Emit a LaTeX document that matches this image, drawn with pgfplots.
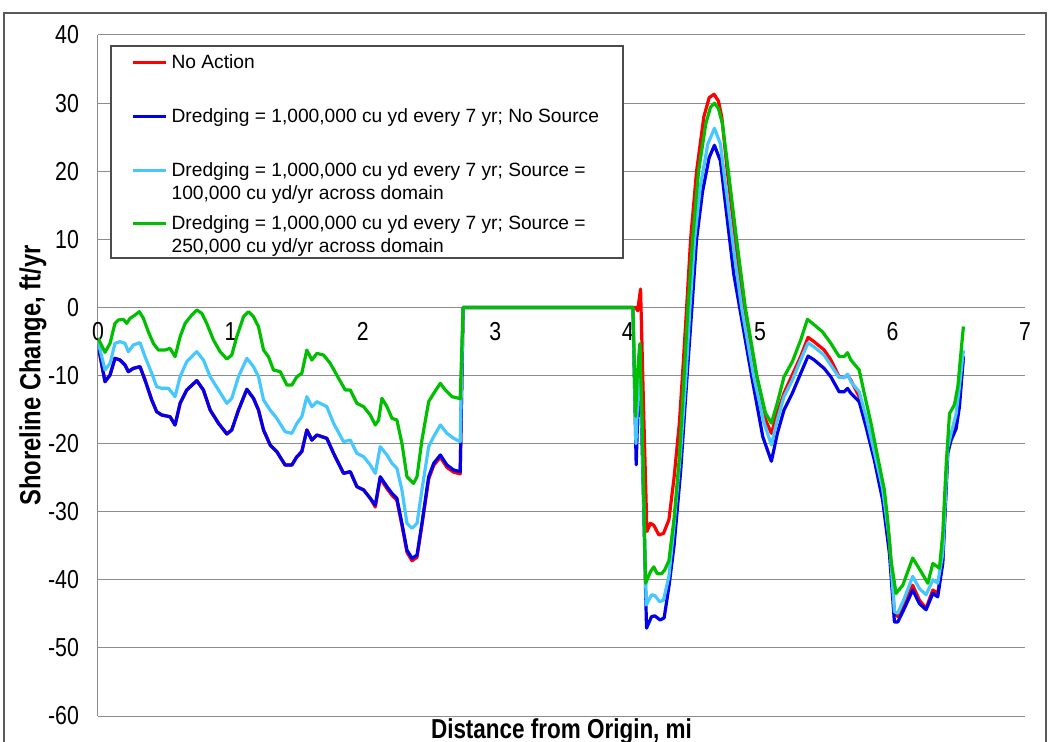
\documentclass[border=0pt]{standalone}
\usepackage{fontspec}
\setmainfont{Liberation Sans}
\newfontfamily\narrowfont{Liberation Sans}[FakeStretch=0.82]
\usepackage{pgfplots}
\pgfplotsset{compat=1.18}
\definecolor{cRed}{RGB}{255,0,0}
\definecolor{cBlue}{RGB}{0,0,235}
\definecolor{cCyan}{RGB}{70,200,255}
\definecolor{cGreen}{RGB}{0,190,0}
\definecolor{gridgray}{RGB}{140,140,140}
\newcommand\legtext[1]{\raisebox{0pt}[7.5pt][2pt]{#1}}
\newcommand\legtwo[2]{\raisebox{0pt}[7.5pt][2pt]{\begin{tabular}[t]{@{}l@{}}#1\\#2\end{tabular}}}
\begin{document}
\begin{tikzpicture}
\path[use as bounding box] (0,0) rectangle (525pt,370.5pt);
\draw[line width=0.7pt, black!65] (2pt,-2pt) -- (2pt,364pt) -- (523pt,364pt) -- (523pt,-2pt);
\begin{axis}[
  at={(49pt,12.5pt)}, anchor=south west,
  width=463.5pt, height=340.5pt, scale only axis,
  xmin=0, xmax=7, ymin=-60, ymax=40,
  axis x line=middle, axis y line=left,
  hide obscured x ticks=false,
  axis line style={-, draw=gridgray, line width=0.5pt},
  xtick={0,...,7}, ytick={-60,-50,...,40},
  major tick length=0pt,
  ymajorgrids, major grid style={draw=gridgray, line width=0.5pt},
  ticklabel style={font=\narrowfont\fontsize{13}{15}\selectfont},
  /pgf/number format/assume math mode=true,
  yticklabel style={anchor=east, xshift=-6pt},
  xticklabel style={anchor=north, yshift=-4pt},
  xlabel={Distance from Origin, mi},
  ylabel={Shoreline Change, ft/yr},
  xlabel style={at={(axis description cs:0.5,0)}, anchor=center, yshift=-7.5pt, font=\narrowfont\bfseries\fontsize{13.7}{16}\selectfont},
  ylabel style={at={(axis description cs:0,0.5)}, anchor=center, yshift=32.5pt, font=\narrowfont\bfseries\fontsize{14.5}{16}\selectfont},
  legend style={at={(axis description cs:0.014,0.984)}, anchor=north west, draw=none, fill=none,
    font=\fontsize{9.6}{11.5}\selectfont, inner xsep=10pt, inner ysep=1.75pt, row sep=13.85pt},
  legend cell align=left,
  legend image code/.code={\draw[#1] (0pt,0pt) -- (16.5pt,0pt);},
  every axis plot/.append style={line width=1.6pt, line join=round},
]
% No Action
\addplot[cRed] coordinates {
(0,-5.5)(0.053,-10.91)(0.091,-9.93)(0.128,-7.48)(0.166,-7.72)(0.204,-8.46)(0.229,-9.44)(0.267,-8.95)(0.317,-8.70)(0.355,-10.66)
(0.406,-13.60)(0.443,-15.31)(0.481,-15.80)(0.544,-16.05)(0.582,-17.27)(0.620,-14.09)(0.670,-12.13)(0.746,-10.76)(0.796,-12.13)
(0.847,-15.07)(0.910,-17.02)(0.973,-18.59)(1.010,-18.00)(1.061,-15.07)(1.124,-12.03)(1.174,-13.35)(1.212,-15.07)(1.250,-18.00)
(1.300,-20.20)(1.350,-21.18)(1.413,-23.14)(1.464,-23.14)(1.502,-21.92)(1.539,-21.18)(1.577,-18.00)(1.615,-19.48)(1.653,-18.74)
(1.728,-19.23)(1.779,-21.43)(1.854,-24.37)(1.905,-24.12)(1.955,-26.32)(2.006,-26.81)(2.056,-28.04)(2.094,-29.32)(2.131,-25.10)
(2.182,-26.60)(2.220,-27.60)(2.257,-28.34)(2.295,-32.00)(2.333,-35.95)(2.371,-37.20)(2.409,-36.70)(2.446,-32.00)(2.497,-25.20)
(2.535,-23.20)(2.585,-22.00)(2.635,-23.50)(2.686,-24.20)(2.735,-24.45)(2.757,0)
(4.06,0)(4.075,-0.5)(4.097,2.7)(4.12,-15)(4.145,-32.9)(4.172,-31.7)(4.197,-32.0)(4.235,-33.4)(4.27,-33.2)(4.311,-31.2)
(4.35,-25)(4.39,-17)(4.42,-8)(4.445,0)(4.475,10)(4.52,20)(4.575,28)(4.615,30.8)(4.652,31.3)(4.685,30.3)(4.71,28)(4.752,20)(4.812,10)
(4.878,0)(4.962,-10)(5.03,-16)(5.085,-18.5)(5.13,-15.5)(5.18,-12.6)(5.243,-9.9)(5.306,-7.2)(5.362,-4.4)(5.407,-5.03)
(5.483,-6.25)(5.534,-7.7)(5.597,-10.2)(5.634,-10.3)(5.660,-9.9)(5.685,-10.7)(5.748,-13.1)(5.799,-16.5)(5.862,-21.4)(5.925,-26.8)
(5.976,-34.2)(6.014,-44.9)(6.039,-45.4)(6.089,-43.7)(6.152,-40.8)(6.203,-43.0)(6.253,-44.2)(6.304,-41.5)(6.341,-42.0)(6.379,-37.1)
(6.417,-20.9)(6.442,-19.0)(6.480,-17.0)(6.505,-13.6)(6.535,-7.2)
};
\addlegendentry{\legtext{No Action}}
% Dredging, no source
\addplot[cBlue] coordinates {
(0,-5.5)(0.053,-10.91)(0.091,-9.93)(0.128,-7.48)(0.166,-7.72)(0.204,-8.46)(0.229,-9.44)(0.267,-8.95)(0.317,-8.70)(0.355,-10.66)
(0.406,-13.60)(0.443,-15.31)(0.481,-15.80)(0.544,-16.05)(0.582,-17.27)(0.620,-14.09)(0.670,-12.13)(0.746,-10.76)(0.796,-12.13)
(0.847,-15.07)(0.910,-17.02)(0.973,-18.59)(1.010,-18.00)(1.061,-15.07)(1.124,-12.03)(1.174,-13.35)(1.212,-15.07)(1.250,-18.00)
(1.300,-20.20)(1.350,-21.18)(1.413,-23.14)(1.464,-23.14)(1.502,-21.92)(1.539,-21.18)(1.577,-18.00)(1.615,-19.48)(1.653,-18.74)
(1.728,-19.23)(1.779,-21.43)(1.854,-24.37)(1.905,-24.12)(1.955,-26.32)(2.006,-26.81)(2.056,-28.04)(2.094,-29.02)(2.131,-24.86)
(2.182,-26.32)(2.220,-27.30)(2.257,-28.04)(2.295,-31.71)(2.333,-35.63)(2.371,-36.85)(2.409,-36.36)(2.446,-31.71)(2.497,-24.86)
(2.535,-22.90)(2.585,-21.67)(2.635,-23.14)(2.686,-23.88)(2.735,-24.12)(2.757,0)
(4.039,0)(4.064,-23.1)(4.09,-6.5)(4.115,-25)(4.142,-47.1)(4.18,-45.4)(4.205,-45.3)(4.245,-45.9)(4.275,-45.6)(4.311,-41)
(4.35,-35)(4.40,-24)(4.445,-11)(4.485,0)(4.52,10)(4.565,17)(4.615,22)(4.655,23.8)(4.70,21.5)(4.745,14)(4.80,5)
(4.845,0)(4.935,-10)(5.02,-19)(5.085,-22.6)(5.13,-18.5)(5.18,-15.07)(5.243,-12.6)(5.306,-9.7)(5.362,-7.14)(5.407,-7.7)
(5.483,-8.95)(5.534,-10.2)(5.597,-12.4)(5.634,-12.4)(5.660,-11.9)(5.685,-12.6)(5.748,-13.85)(5.799,-17.5)(5.862,-22.4)(5.925,-28.3)
(5.976,-36.1)(6.014,-46.2)(6.039,-46.2)(6.089,-44.2)(6.152,-41.5)(6.203,-43.5)(6.253,-44.4)(6.304,-42.0)(6.341,-42.5)(6.379,-37.6)
(6.417,-21.4)(6.442,-19.5)(6.480,-17.8)(6.505,-14.6)(6.535,-7.2)
};
\addlegendentry{\legtext{Dredging = 1,000,000 cu yd every 7 yr; No Source}}
% Source 100,000
\addplot[cCyan] coordinates {
(0,-5.0)(0.053,-9.19)(0.091,-8.21)(0.128,-5.28)(0.166,-5.03)(0.204,-5.28)(0.229,-6.50)(0.267,-5.52)(0.317,-5.18)(0.355,-7.23)
(0.406,-9.68)(0.443,-11.64)(0.481,-11.88)(0.532,-11.88)(0.582,-13.11)(0.620,-10.17)(0.670,-7.97)(0.746,-6.50)(0.796,-7.72)
(0.847,-10.17)(0.910,-12.13)(0.973,-14.09)(1.010,-13.35)(1.061,-10.17)(1.124,-7.48)(1.174,-8.70)(1.212,-10.17)(1.250,-13.60)
(1.300,-15.07)(1.350,-16.29)(1.413,-18.25)(1.464,-18.49)(1.502,-17.02)(1.539,-16.05)(1.577,-13.11)(1.615,-14.58)(1.653,-13.84)
(1.728,-14.58)(1.779,-17.02)(1.854,-19.72)(1.905,-19.48)(1.955,-21.43)(2.006,-21.92)(2.056,-23.14)(2.094,-24.37)(2.131,-20.45)
(2.182,-21.67)(2.220,-22.90)(2.257,-23.63)(2.295,-26.81)(2.333,-31.71)(2.371,-32.44)(2.409,-31.71)(2.446,-26.81)(2.497,-20.45)
(2.535,-18.98)(2.585,-17.27)(2.635,-18.49)(2.686,-19.23)(2.735,-19.72)(2.757,0)
(4.039,0)(4.062,-20.0)(4.09,-6)(4.11,-20)(4.14,-43.7)(4.18,-42.2)(4.205,-42.3)(4.24,-43.2)(4.27,-43.0)(4.311,-39.5)
(4.35,-32)(4.40,-21)(4.44,-10)(4.47,0)(4.505,10)(4.55,18)(4.605,24)(4.655,26.3)(4.70,24)(4.745,17)(4.81,7)
(4.86,0)(4.95,-10)(5.03,-17)(5.085,-20.2)(5.13,-16.5)(5.18,-13.1)(5.243,-10.7)(5.306,-7.7)(5.362,-5.2)(5.407,-5.8)
(5.483,-7.0)(5.534,-8.5)(5.597,-10.3)(5.634,-10.3)(5.660,-9.8)(5.685,-10.9)(5.748,-12.4)(5.799,-16.0)(5.862,-21.2)(5.925,-26.6)
(5.976,-34.2)(6.014,-44.7)(6.039,-44.9)(6.089,-42.7)(6.152,-39.5)(6.203,-41.3)(6.253,-42.2)(6.304,-40.0)(6.341,-40.5)(6.379,-36.1)
(6.417,-20.5)(6.442,-18.5)(6.480,-15.6)(6.505,-11.6)(6.535,-6.3)
};
\addlegendentry{\legtwo{Dredging = 1,000,000 cu yd every 7 yr; Source =}{100,000 cu yd/yr across domain}}
% Source 250,000
\addplot[cGreen] coordinates {
(0,-4.5)(0.053,-6.6)(0.091,-5.28)(0.128,-2.34)(0.154,-1.85)(0.191,-1.75)(0.217,-2.34)(0.242,-1.61)(0.280,-1.12)(0.312,-0.63)
(0.343,-1.61)(0.380,-3.57)(0.418,-5.28)(0.456,-6.26)(0.506,-6.26)(0.544,-6.01)(0.582,-7.23)(0.620,-4.30)(0.658,-2.34)(0.708,-1.12)
(0.746,-0.38)(0.784,-0.87)(0.821,-2.34)(0.872,-4.79)(0.922,-6.50)(0.973,-7.58)(1.010,-7.00)(1.048,-4.30)(1.099,-1.36)(1.136,-0.63)
(1.174,-1.36)(1.212,-2.83)(1.250,-6.26)(1.287,-7.23)(1.325,-9.19)(1.376,-9.43)(1.426,-11.40)(1.464,-11.40)(1.502,-10.17)(1.539,-9.68)
(1.577,-6.26)(1.615,-7.73)(1.653,-6.75)(1.703,-7.00)(1.754,-8.22)(1.817,-10.42)(1.867,-12.13)(1.905,-12.13)(1.955,-14.09)(2.006,-14.58)
(2.056,-15.80)(2.094,-17.27)(2.119,-16.53)(2.144,-13.35)(2.182,-14.58)(2.220,-16.29)(2.257,-16.53)(2.295,-19.96)(2.333,-24.86)
(2.383,-25.84)(2.409,-24.86)(2.446,-19.47)(2.497,-13.84)(2.535,-12.62)(2.585,-11.15)(2.623,-12.13)(2.673,-13.11)(2.735,-13.4)(2.757,0)
(4.039,0)(4.059,-16.0)(4.072,-10)(4.092,-5.3)(4.11,-18)(4.135,-40.5)(4.172,-38.8)(4.197,-38.1)(4.223,-39.1)(4.255,-39.1)(4.278,-38.6)
(4.311,-37.2)(4.35,-31)(4.39,-22)(4.42,-12)(4.455,0)(4.49,10)(4.535,20)(4.59,27)(4.625,29.4)(4.655,30)(4.685,29.2)(4.715,27)(4.76,20)(4.822,10)
(4.888,0)(4.975,-10)(5.04,-15.5)(5.085,-17.0)(5.13,-14)(5.180,-10.2)(5.243,-7.97)(5.306,-4.8)(5.357,-1.75)(5.395,-2.34)
(5.470,-3.56)(5.534,-5.28)(5.597,-7.23)(5.634,-7.23)(5.660,-6.65)(5.685,-7.72)(5.748,-9.19)(5.786,-12.62)(5.837,-17.0)(5.887,-21.9)
(5.938,-26.8)(5.963,-31.2)(5.988,-37.1)(6.026,-42.0)(6.077,-40.8)(6.152,-36.8)(6.215,-38.8)(6.266,-40.5)(6.304,-37.6)(6.354,-38.3)
(6.379,-33.2)(6.404,-23.4)(6.430,-15.6)(6.467,-14.3)(6.493,-11.6)(6.518,-6.3)(6.535,-2.8)
};
\addlegendentry{\legtwo{Dredging = 1,000,000 cu yd every 7 yr; Source =}{250,000 cu yd/yr across domain}}
\draw[draw=black!70, line width=0.6pt, fill=white] (axis description cs:0.014,0.6725) rectangle (axis description cs:0.5663,0.9838);
\end{axis}
\end{tikzpicture}
\end{document}
